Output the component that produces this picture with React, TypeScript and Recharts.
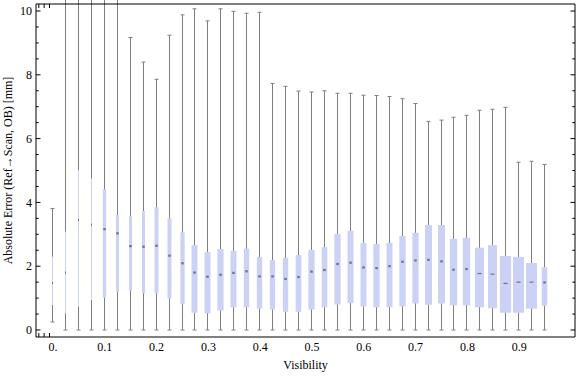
import React from 'react';
import { ComposedChart, Bar, XAxis, YAxis, ReferenceLine } from 'recharts';

// one box per visibility bin
const visibility = [
  0, 0.025, 0.05, 0.075, 0.1, 0.125, 0.15, 0.175, 0.2, 0.225,
  0.25, 0.275, 0.3, 0.325, 0.35, 0.375, 0.4, 0.425, 0.45, 0.475,
  0.5, 0.525, 0.55, 0.575, 0.6, 0.625, 0.65, 0.675, 0.7, 0.725,
  0.75, 0.775, 0.8, 0.825, 0.85, 0.875, 0.9, 0.925, 0.95,
];

const whiskerLow = [
  0.25, 0, 0, 0, 0, 0, 0, 0, 0, 0,
  0, 0, 0, 0, 0, 0, 0, 0, 0, 0,
  0, 0, 0, 0, 0, 0, 0, 0, 0, 0,
  0, 0, 0, 0, 0, 0, 0, 0, 0,
];

const lowerQuartile = [
  0.78, 0.52, 0.73, 0.94, 1.01, 1.2, 1.23, 1.15, 1.15, 0.99,
  0.82, 0.54, 0.52, 0.61, 0.71, 0.71, 0.67, 0.64, 0.57, 0.57,
  0.64, 0.71, 0.8, 0.84, 0.74, 0.71, 0.71, 0.74, 0.83, 0.79,
  0.83, 0.77, 0.77, 0.71, 0.68, 0.54, 0.54, 0.67, 0.76,
];

const medianError = [
  1.47, 1.8, 3.45, 3.3, 3.16, 3.03, 2.63, 2.61, 2.64, 2.33,
  2.09, 1.8, 1.67, 1.73, 1.79, 1.84, 1.68, 1.68, 1.6, 1.66,
  1.83, 1.88, 2.07, 2.11, 1.96, 1.94, 2.0, 2.14, 2.18, 2.2,
  2.15, 1.89, 1.91, 1.77, 1.75, 1.46, 1.5, 1.5, 1.49,
];

const upperQuartile = [
  2.3, 3.08, 5.02, 4.75, 4.41, 3.61, 3.57, 3.73, 3.85, 3.5,
  3.06, 2.66, 2.44, 2.54, 2.48, 2.55, 2.29, 2.19, 2.26, 2.35,
  2.51, 2.6, 3.01, 3.11, 2.73, 2.7, 2.73, 2.95, 3.05, 3.29,
  3.29, 2.86, 2.89, 2.58, 2.66, 2.32, 2.29, 2.1, 1.97,
];

// first few bins run off the top of the plot
const whiskerHigh = [
  3.81, 11, 11, 11, 11, 11, 9.17, 8.4, 7.86, 9.24,
  9.88, 10.07, 9.69, 10.07, 9.99, 9.93, 9.96, 7.73, 7.64, 7.49,
  7.46, 7.5, 7.42, 7.42, 7.36, 7.35, 7.32, 7.25, 7.1, 6.54,
  6.58, 6.67, 6.73, 6.89, 6.92, 6.98, 5.26, 5.29, 5.19,
];

// relative box width of each bin
const boxWeight = [
  0.09, 0.09, 0.09, 0.09, 0.29, 0.27, 0.27, 0.27, 0.35, 0.35,
  0.38, 0.53, 0.53, 0.55, 0.53, 0.47, 0.47, 0.47, 0.47, 0.5,
  0.56, 0.5, 0.56, 0.53, 0.53, 0.55, 0.53, 0.56, 0.56, 0.62,
  0.62, 0.65, 0.65, 0.8, 0.8, 1.0, 0.97, 0.97, 0.5,
];

const xTicks = [0, 0.1, 0.2, 0.3, 0.4, 0.5, 0.6, 0.7, 0.8, 0.9];
const xTickLabels = ['0.', '0.1', '0.2', '0.3', '0.4', '0.5', '0.6', '0.7', '0.8', '0.9'];
const yMajorTicks = [0, 2, 4, 6, 8, 10];
const yMinorTicks = [
  0, 0.5, 1, 1.5, 2, 2.5, 3, 3.5, 4, 4.5, 5,
  5.5, 6, 6.5, 7, 7.5, 8, 8.5, 9, 9.5, 10,
];

const xDomain = [-0.0328, 1.0077];
const yDomain = [-0.22, 10.22];

const MAX_BOX = 11.3;
const BOX_FILL = '#ccd2f5';
const WHISKER = '#7f7f7f';
const FONT = 'Liberation Serif';

const data = visibility.map((v, i) => ({
  vis: v,
  box: [lowerQuartile[i], upperQuartile[i]],
  lo: whiskerLow[i],
  hi: whiskerHigh[i],
  med: medianError[i],
  w: boxWeight[i],
}));

function BoxShape(props: any) {
  const { x, y, width, height, payload } = props;
  const [q1, q3] = payload.box;
  const k = height / (q3 - q1);
  const py = (v: number) => y + (q3 - v) * k;
  const cx = Math.round(x + width / 2 - 0.5) + 0.5;
  const bw = payload.w * MAX_BOX;
  const yHi = py(payload.hi);
  const yLo = py(payload.lo);
  const yMed = py(payload.med);
  const wide = bw >= 9;
  const medW = Math.max(1, Math.min(bw, wide ? 4 : 2.5));
  return (
    <g>
      <line x1={cx} x2={cx} y1={yHi} y2={yLo} stroke={WHISKER} strokeWidth={1} />
      <line x1={cx - 2} x2={cx + 2} y1={yHi} y2={yHi} stroke={WHISKER} strokeWidth={1} />
      <line x1={cx - 2} x2={cx + 2} y1={yLo} y2={yLo} stroke={WHISKER} strokeWidth={1} />
      <rect x={cx - bw / 2} y={y} width={bw} height={height} fill={BOX_FILL} />
      <rect
        x={cx - medW / 2}
        y={yMed - (wide ? 0.6 : 1.1)}
        width={medW}
        height={wide ? 1.2 : 2.2}
        fill="#737384"
      />
    </g>
  );
}

// inward frame ticks on the left / right edge: long for labelled values, short otherwise
function frameTick(dir: number) {
  return (props: any) => {
    const { x, y, payload } = props;
    const len = yMajorTicks.includes(payload.value) ? 4.5 : 2.7;
    return <line x1={x} x2={x + dir * len} y1={y} y2={y} stroke="#000" strokeWidth={1} />;
  };
}
const LeftTick = frameTick(1);
const RightTick = frameTick(-1);

const tickStyle = { fill: '#000', fontSize: 12, fontFamily: FONT };
const noLabel = () => '';

export default function App() {
  return (
    <div style={{ position: 'absolute', left: 0, top: 0, background: '#fff' }}>
      <ComposedChart
        width={576}
        height={377}
        data={data}
        margin={{ top: 4, right: 1, left: 0, bottom: 0 }}
      >
        <XAxis
          xAxisId="main"
          type="number"
          dataKey="vis"
          domain={xDomain}
          ticks={xTicks}
          interval={0}
          tickFormatter={(v: number) => xTickLabels[xTicks.indexOf(v)] ?? String(v)}
          tick={tickStyle}
          tickLine={false}
          tickSize={4}
          tickMargin={1.5}
          axisLine={{ stroke: '#000' }}
          height={40}
          allowDataOverflow
          label={{ value: 'Visibility', position: 'insideBottom', offset: 8, fill: '#000', fontSize: 12, fontFamily: FONT }}
        />
        <XAxis
          xAxisId="bottomTicks"
          type="number"
          domain={xDomain}
          ticks={visibility}
          tickFormatter={noLabel}
          mirror
          axisLine={false}
          tickLine={{ stroke: '#000' }}
          tickSize={4}
          allowDataOverflow
        />
        <XAxis
          xAxisId="topTicks"
          orientation="top"
          type="number"
          domain={xDomain}
          ticks={visibility}
          tickFormatter={noLabel}
          mirror
          axisLine={{ stroke: '#000' }}
          tickLine={{ stroke: '#000' }}
          tickSize={4}
          allowDataOverflow
        />
        <YAxis
          yAxisId="main"
          type="number"
          domain={yDomain}
          ticks={yMajorTicks}
          interval={0}
          tick={tickStyle}
          tickLine={false}
          tickSize={4}
          tickMargin={0}
          axisLine={{ stroke: '#000' }}
          width={36}
          label={{
            value: 'Absolute Error (Ref\u2192Scan, OB) [mm]',
            angle: -90,
            position: 'insideLeft',
            offset: 8,
            fill: '#000',
            fontSize: 12,
            fontFamily: FONT,
            style: { textAnchor: 'middle' },
          }}
        />
        <YAxis
          yAxisId="leftTicks"
          type="number"
          domain={yDomain}
          ticks={yMinorTicks}
          interval={0}
          tick={LeftTick}
          mirror
          axisLine={false}
          tickLine={false}
          tickSize={0}
          tickMargin={0}
          allowDataOverflow
        />
        <YAxis
          yAxisId="rightTicks"
          orientation="right"
          type="number"
          domain={yDomain}
          ticks={yMinorTicks}
          interval={0}
          tick={RightTick}
          mirror
          axisLine={false}
          tickLine={false}
          tickSize={0}
          tickMargin={0}
          allowDataOverflow
        />
        <ReferenceLine xAxisId="main" yAxisId="main" x={xDomain[1]} stroke="#000" strokeWidth={1} />
        <Bar
          xAxisId="main"
          yAxisId="main"
          dataKey="box"
          barSize={12}
          shape={BoxShape}
          isAnimationActive={false}
        />
      </ComposedChart>
    </div>
  );
}
